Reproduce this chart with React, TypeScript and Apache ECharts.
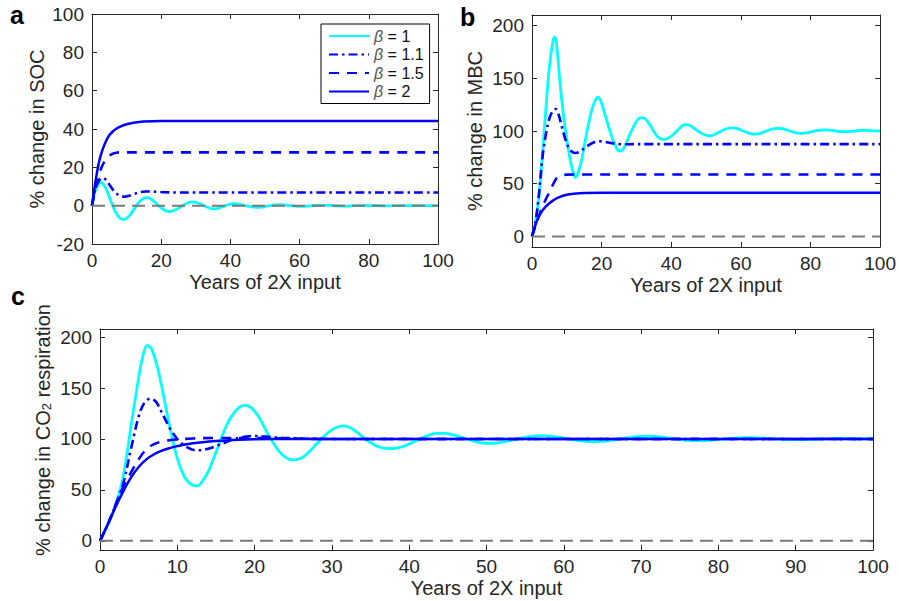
import React, { useEffect, useRef } from 'react';
import * as echarts from 'echarts';

// ---------- data: [year, % change] ----------
const SOC_B1 = [[0,0],[1,8],[2,11.5],[2.6,12.2],[3,11.8],[4,9],[5,4.5],[6,-0.2],[7,-4],[8,-6.3],[9,-7.1],[10,-6.6],[11,-4.8],[12,-2.2],[13,0.5],[14,2.6],[15,3.9],[16,4.2],[17,3.5],[18,2.1],[19,0.4],[20,-1.2],[21,-2.4],[22,-3],[23,-2.9],[24,-2.3],[25,-1.3],[26,-0.2],[27,0.9],[28,1.7],[29,2],[30,1.7],[31,1.1],[32,0.3],[33,-0.6],[34,-1.3],[35,-1.7],[36,-1.5],[37,-1],[38,-0.4],[39,0.3],[41,1],[43,0.6],[45,-0.3],[47.5,-0.9],[50,-0.4],[52,0.2],[54,0.5],[57,0.1],[60,-0.4],[63,-0.1],[66,0.3],[69,0.1],[72.5,-0.2],[76,0],[79,0.15],[82,0],[85,-0.1],[91,0.05],[100,0]];
const SOC_B11 = [[0,0],[1,9],[2,13],[3,14.5],[4,13.6],[5,11],[6,8.4],[7,6.4],[8,5.2],[9,4.7],[10,4.8],[11,5.3],[12,6],[13,6.6],[14,7.1],[15.5,7.4],[17,7.4],[19,7.2],[21,7],[24,6.9],[30,6.9],[100,6.9]];
const SOC_B15 = [[0,0],[1,9],[2,16],[3,21],[4,24],[5,26],[6,27.1],[7,27.6],[8,27.8],[10,27.8],[100,27.8]];
const SOC_B2 = [[0,0],[1,12.5],[2,22.5],[3,29],[4,33.5],[5,36.7],[6,38.7],[7,40.1],[8,41.1],[10,42.5],[12,43.3],[15,43.9],[20,44.2],[100,44.2]];

const MBC_B1 = [[0,0],[1,14],[2,38],[3,78],[4,122],[5,161],[6,185],[6.5,189],[7,184],[8,147],[9,116],[10,92],[11,72],[12,59],[12.5,56],[13,58],[14,69],[15,86],[16,103],[17,118],[18,128],[19,132],[20,126],[21,115],[22,104],[23,94],[24,86],[25,81],[26,82],[27,88],[28,96],[29,103],[30,109],[31,112.5],[32,112.5],[33,110],[34,105],[35,99.5],[36,95],[37,92.5],[38,92],[39,93],[40.5,96.5],[42,101.5],[43.2,105],[44.2,106],[45.5,105],[47,101.5],[48.5,98],[50,96],[50.9,95.5],[52,96],[53.5,98.5],[55,101],[56.3,102.6],[57.5,103],[58.8,102.5],[60.3,100.5],[61.8,98.5],[63,97.3],[64,97],[65.3,97.5],[66.8,99.3],[68.3,101.2],[69.6,102.2],[70.9,102.5],[72.2,102],[73.8,100.3],[75.3,98.7],[76.5,98],[77.5,97.8],[78.8,98.2],[80.3,99.3],[81.8,100.4],[83,100.9],[84.2,101],[85.5,100.8],[87,100.2],[88.5,99.6],[90,99.4],[91.5,99.6],[93,100.1],[94.5,100.5],[96,100.5],[98,100.2],[100,100]];
const MBC_B11 = [[0,0],[1,14],[2,40],[3,75],[4,97],[5,112],[6,119],[6.8,120.8],[7.5,117],[8.5,105],[9.5,93],[10.4,85],[11.3,80.8],[12.3,79.2],[13.5,80],[15,83.5],[16.5,87],[18,89.5],[19.5,90.3],[21,89.7],[23,88.5],[25.5,87.5],[28,87.5],[30,87.6],[100,87.6]];
const MBC_B15 = [[0,0],[1,10],[2,19.5],[3,28],[4,35.5],[5,42],[6,49],[7,55],[8,57.5],[9,58.3],[10,58.6],[12,58.8],[100,58.8]];
const MBC_B2 = [[0,0],[1,11],[2,19],[3,24.5],[4,28.5],[5,31.5],[6,34],[7,36],[8,37.5],[10,39.6],[12,40.6],[15,41.3],[20,41.5],[100,41.5]];

const CO2_B1 = [[0,0],[1,16],[2,35],[3,63],[4,112],[5,160],[5.5,180],[6.1,192],[6.7,188],[7.5,168],[8,151],[9,113],[10,81],[11,62],[12,54.5],[12.5,54],[13,56],[14,68],[15,87],[16,107],[17,122],[18,131],[18.8,133],[19.5,131],[20.5,122],[21.5,108],[22.5,95],[23.5,85],[24.5,80],[25,79.5],[26,81],[27,87],[28,95],[29,103],[30,109],[31,112.5],[31.5,112.8],[32.5,110.5],[33.5,105],[34.5,99],[35.5,94],[36.5,91.2],[37.5,90.5],[38.5,91.3],[39.5,93.5],[41,98.5],[42.3,103],[43.5,105.5],[44.5,105.5],[45.8,103.8],[47.3,100.3],[48.8,97],[50,95.8],[51.2,96],[52.6,97.8],[54.1,100.4],[55.6,102.4],[57,103.3],[58.3,102.9],[59.8,101.2],[61.3,99.1],[62.7,97.7],[63.8,97.3],[65,97.6],[66.5,99.2],[68,101],[69.5,102.2],[70.9,102.7],[72.2,102.2],[73.8,100.7],[75.3,99.1],[76.5,98.4],[77.5,98.3],[78.8,98.7],[80.3,99.7],[81.8,100.7],[83,101.2],[84,101.3],[85.3,101],[86.8,100.3],[88.5,99.6],[90,99.3],[91.5,99.5],[93,100],[94.5,100.4],[96,100.5],[98,100.2],[100,100]];
const CO2_B11 = [[0,0],[1,16],[2,35],[3,56],[4,90],[5,122],[5.7,135],[6.5,139.5],[7.2,137],[8,126],[9,111],[10,100],[11,93],[12,89.5],[13,89],[14,90.5],[15,93],[16,96],[17,99],[18,101.2],[19,102.5],[20,103],[21,102.6],[22,102],[24,101],[27,100.3],[30,100],[100,100]];
const CO2_B15 = [[0,0],[1,16],[2,35],[3,53],[4,67],[5,80],[6,90],[7,95],[8,97.5],[9,98.8],[10,99.5],[12,100.5],[15,101],[20,101],[25,100.4],[30,100],[100,100]];
const CO2_B2 = [[0,0],[1,16],[2,33],[3,48.5],[4,62],[5,72.5],[6,80],[7,85],[8,88.5],[9,91],[10,93],[12,95.8],[15,98],[18,99.3],[20,99.7],[25,100],[100,100]];

const ZERO_LINE = [[0,0],[100,0]];

const BETA_NAMES = ['β = 1', 'β = 1.1', 'β = 1.5', 'β = 2'];
const TICKS_A_X = [0, 20, 40, 60, 80, 100];
const TICKS_C_X = [0, 10, 20, 30, 40, 50, 60, 70, 80, 90, 100];
const TICKS_A_Y = [-20, 0, 20, 40, 60, 80, 100];
const TICKS_BC_Y = [0, 50, 100, 150, 200];

const AX = '#262626';
const FONT = 'Liberation Sans, Arial, Helvetica, sans-serif';

const STYLES = [
  { color: '#00ffff', width: 2.8, type: 'solid' as any },
  { color: '#0000ff', width: 2.6, type: [9, 4, 2.5, 4] as any },
  { color: '#0000ff', width: 2.6, type: [10, 8] as any },
  { color: '#0000ff', width: 2.5, type: 'solid' as any },
];

function xPair(grid: number, ticks: number[]) {
  const base = {
    type: 'value', gridIndex: grid, min: 0, max: 100,
    splitLine: { show: false },
    axisLine: { show: true, onZero: false, lineStyle: { color: AX, width: 1 } },
    axisTick: { show: true, inside: true, length: 5, lineStyle: { color: AX }, customValues: ticks },
  };
  return [
    {
      ...base, position: 'bottom',
      axisLabel: { show: true, customValues: ticks, color: AX, fontSize: 19, margin: 7, fontFamily: FONT },
      name: 'Years of 2X input', nameLocation: 'middle', nameGap: 28,
      nameTextStyle: { color: AX, fontSize: 20, fontFamily: FONT },
    },
    { ...base, position: 'top', axisLabel: { show: false } },
  ];
}

function yPair(grid: number, min: number, max: number, ticks: number[], name: string, nameGap: number) {
  const base = {
    type: 'value', gridIndex: grid, min, max,
    splitLine: { show: false },
    axisLine: { show: true, onZero: false, lineStyle: { color: AX, width: 1 } },
    axisTick: { show: true, inside: true, length: 5, lineStyle: { color: AX }, customValues: ticks },
  };
  return [
    {
      ...base, position: 'left',
      axisLabel: { show: true, customValues: ticks, color: AX, fontSize: 19, margin: 8, fontFamily: FONT },
      name, nameLocation: 'middle', nameGap,
      nameTextStyle: { color: AX, fontSize: 20, fontFamily: FONT },
    },
    { ...base, position: 'right', axisLabel: { show: false } },
  ];
}

function panelSeries(xi: number, yi: number, sets: number[][][]) {
  const out: any[] = sets.map((d, i) => ({
    type: 'line', name: BETA_NAMES[i], xAxisIndex: xi, yAxisIndex: yi,
    data: d, symbol: 'none', showSymbol: false, smooth: 0.35,
    lineStyle: { color: STYLES[i].color, width: STYLES[i].width, type: STYLES[i].type },
    itemStyle: { color: STYLES[i].color },
    z: 2 + i,
  }));
  out.push({
    type: 'line', name: 'zero', xAxisIndex: xi, yAxisIndex: yi, data: ZERO_LINE, symbol: 'none',
    lineStyle: { color: '#7a7a7a', width: 2, type: [13, 7] }, z: 10,
  });
  return out;
}

export default function App() {
  const ref = useRef<HTMLDivElement>(null);
  useEffect(() => {
    if (!ref.current) return;
    const chart = echarts.init(ref.current, undefined, { renderer: 'svg' });
    const option: any = {
      animation: false,
      backgroundColor: '#ffffff',
      textStyle: { fontFamily: FONT },
      grid: [
        { left: 92, top: 14, width: 346, height: 230 },
        { left: 532, top: 15, width: 350, height: 232 },
        { left: 100, top: 329, width: 773, height: 221 },
      ],
      xAxis: [...xPair(0, TICKS_A_X), ...xPair(1, TICKS_A_X), ...xPair(2, TICKS_C_X)],
      yAxis: [
        ...yPair(0, -20, 100, TICKS_A_Y, '% change in SOC', 45),
        ...yPair(1, -10, 210, TICKS_BC_Y, '% change in MBC', 47),
        ...yPair(2, -9, 208, TICKS_BC_Y, '', 46),
      ],
      legend: {
        data: BETA_NAMES,
        orient: 'vertical',
        left: 321, top: 24,
        padding: [4, 6, 4, 7],
        itemGap: 2.5,
        itemWidth: 40, itemHeight: 14,
        borderColor: '#000', borderWidth: 1, backgroundColor: '#fff',
        itemStyle: { opacity: 0, borderWidth: 0 },
        formatter: (n: string) => '{g|β} = ' + n.slice(4),
        textStyle: {
          color: '#111', fontSize: 16, fontFamily: FONT, lineHeight: 14,
          rich: { g: { fontStyle: 'italic', color: '#555', fontSize: 16, fontFamily: FONT } },
        },
      },
      graphic: [
        { type: 'text', left: 10, top: 2, style: { text: 'a', font: 'bold 25px ' + FONT, fill: '#000' } },
        { type: 'text', left: 460, top: 4, style: { text: 'b', font: 'bold 25px ' + FONT, fill: '#000' } },
        { type: 'text', left: 11, top: 283, style: { text: 'c', font: 'bold 25px ' + FONT, fill: '#000' } },
        {
          type: 'text', x: 43, y: 430, rotation: Math.PI / 2,
          style: {
            text: '% change in CO{sub|2} respiration',
            fill: AX, font: '20px ' + FONT, align: 'center', verticalAlign: 'middle',
            rich: { sub: { fontSize: 13, lineHeight: 6, verticalAlign: 'bottom', fill: AX, fontFamily: FONT } },
          },
        },
      ],
      series: [
        ...panelSeries(0, 0, [SOC_B1, SOC_B11, SOC_B15, SOC_B2]),
        ...panelSeries(2, 2, [MBC_B1, MBC_B11, MBC_B15, MBC_B2]),
        ...panelSeries(4, 4, [CO2_B1, CO2_B11, CO2_B15, CO2_B2]),
      ],
    };
    chart.setOption(option);
    return () => chart.dispose();
  }, []);
  return (
    <div
      ref={ref}
      style={{ position: 'fixed', left: 0, top: 0, width: 899, height: 601, background: '#fff' }}
    />
  );
}
